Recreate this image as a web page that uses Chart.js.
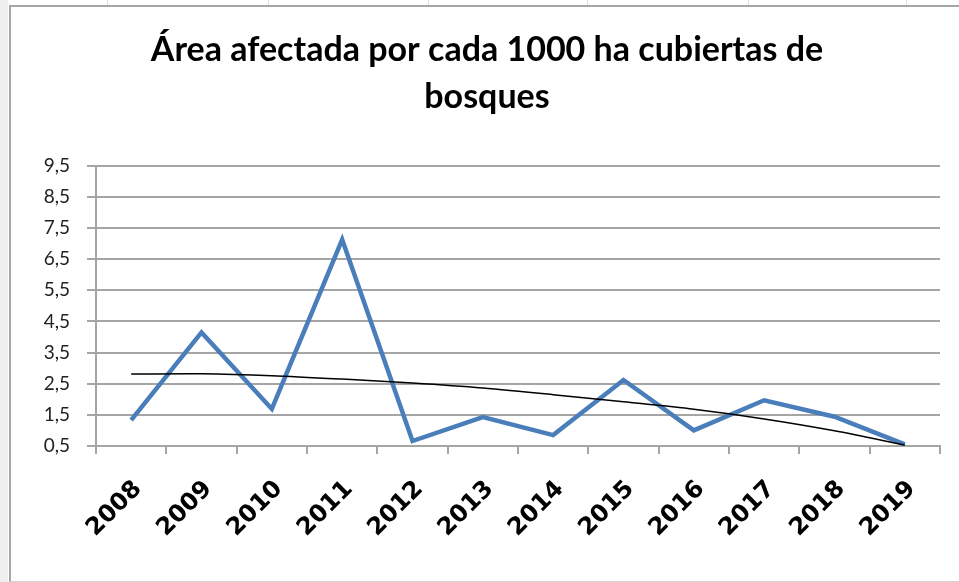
<!DOCTYPE html>
<html>
<head>
<meta charset="utf-8">
<script src="https://cdn.jsdelivr.net/npm/chart.js@4"></script>
<style>
    html, body { margin: 0; padding: 0; background: #ffffff; }
    #sheet { position: absolute; left: 0; top: 0; width: 959px; height: 582px; overflow: hidden; }
    .strip { position: absolute; left: 0; top: 0; width: 8px; height: 582px; background: #efefef; }
    .col { position: absolute; top: 0; width: 1px; height: 6px; background: #dde0e4; }
    #frame { position: absolute; left: 9px; top: 5px; width: 960px; height: 574px;
             border-left: 2px solid #a6a6a6; border-top: 2px solid #a6a6a6; border-bottom: 1px solid #d4d4d4; background: #fff; }
    #myChart { position: absolute; left: 0; top: 0; }
</style>
</head>
<body>
<div id="sheet">
    <div class="strip"></div>
    <div class="col" style="left:107px"></div>
    <div class="col" style="left:268px"></div>
    <div class="col" style="left:428px"></div>
    <div class="col" style="left:587px"></div>
    <div class="col" style="left:748px"></div>
    <div class="col" style="left:906px"></div>
    <div id="frame"></div>
    <canvas id="myChart" width="959" height="582"></canvas>
</div>
<script>
// Datos
const years = ['2008', '2009', '2010', '2011', '2012', '2013', '2014', '2015', '2016', '2017', '2018', '2019'];
const areaValues = [1.33, 4.15, 1.69, 7.13, 0.66, 1.43, 0.85, 2.62, 1.0, 1.97, 1.44, 0.55];
const trendValues = [2.81, 2.82, 2.76, 2.65, 2.52, 2.36, 2.15, 1.92, 1.68, 1.37, 0.99, 0.53];
const titleLines = ['Área afectada por cada 1000 ha cubiertas de', 'bosques'];

function showChart() {

    const ctx = document.getElementById('myChart');

    const data = {
        labels: years,
        datasets: [{
            label: 'Tendencia',
            data: trendValues,
            borderColor: '#000000',
            borderWidth: 1.5,
            pointRadius: 0,
            tension: 0.3,
            order: 0
        }, {
            label: 'Área afectada',
            data: areaValues,
            borderColor: '#4a7ebb',
            borderWidth: 4.5,
            pointRadius: 0,
            tension: 0,
            borderJoinStyle: 'miter',
            order: 1
        }]
    };

    const options = {
        responsive: false,
        animation: false,
        layout: {
            padding: { left: 34, right: 19, top: 27, bottom: 10 }
        },
        plugins: {
            legend: { display: false },
            tooltip: { enabled: false },
            title: {
                display: true,
                text: titleLines,
                color: '#000000',
                font: { family: 'Lato', size: 34, weight: 'bold', lineHeight: 1.38 },
                padding: { top: 0, bottom: 45 }
            }
        },
        scales: {
            x: {
                offset: true,
                grid: {
                    offset: true,
                    drawOnChartArea: false,
                    drawTicks: true,
                    tickLength: 8,
                    color: '#a5a5a5',
                    lineWidth: 2
                },
                border: { color: '#a5a5a5', width: 2 },
                ticks: {
                    autoSkip: false,
                    maxRotation: 45,
                    minRotation: 45,
                    padding: 21,
                    labelOffset: 7,
                    color: '#000000',
                    font: { family: 'DejaVu Sans', size: 24, weight: 'bold' }
                },
                afterFit: function (scale) { scale.height = 126; }
            },
            y: {
                min: 0.5,
                max: 9.5,
                grid: {
                    color: '#a5a5a5',
                    lineWidth: 2,
                    tickLength: 9
                },
                border: { color: '#a5a5a5', width: 2 },
                ticks: {
                    stepSize: 1,
                    padding: 17,
                    color: '#222222',
                    font: { family: 'Lato', size: 19 },
                    callback: function (v) { return v.toFixed(1).replace('.', ','); }
                },
                afterFit: function (scale) { scale.width = 62; }
            }
        }
    };

    new Chart(ctx, {
        type: 'line',
        data: data,
        options: options
    });
}

showChart();
</script>
</body>
</html>
